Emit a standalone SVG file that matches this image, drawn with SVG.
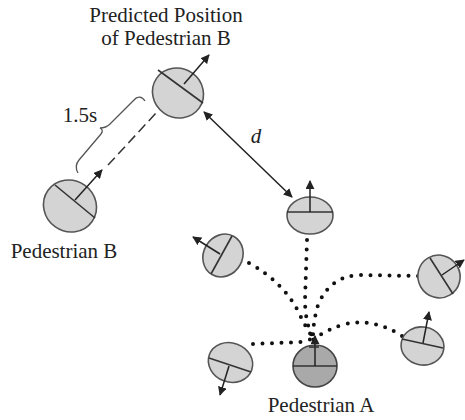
<svg xmlns="http://www.w3.org/2000/svg" width="465" height="420" viewBox="0 0 465 420">
<defs>
<marker id="ah" viewBox="0 0 10 10" refX="9" refY="5" markerWidth="9" markerHeight="9" markerUnits="userSpaceOnUse" orient="auto-start-reverse">
<path d="M0,0 L10,5 L0,10 z" fill="#222"/>
</marker>
<style>
.ped{fill:#d4d4d4;stroke:#555;stroke-width:1.6}
.pedA{fill:#a9a9a9;stroke:#444;stroke-width:1.6}
.div{stroke:#333;stroke-width:1.6;fill:none}
.arr{stroke:#222;stroke-width:1.5;fill:none;marker-end:url(#ah)}
.dots{stroke:#111;stroke-width:4;stroke-linecap:round;stroke-dasharray:0 9.5;fill:none}
</style>
</defs>
<rect width="465" height="420" fill="#fff"/>
<g id="connectors">
<path class="dots" d="M307,240 L305,300 Q305,322 313,338"/>
<path class="dots" d="M249,263 Q285,283 300,315 Q306,328 313,338"/>
<path class="dots" d="M418,276 L360,275 Q330,276 318,305 Q313,322 313,338"/>
<path class="dots" d="M402,336 Q375,318 345,324 Q325,330 313,340"/>
<path class="dots" d="M253,344 L301,342 Q308,341 313,338"/>
<line x1="108" y1="165" x2="157" y2="112" stroke="#333" stroke-width="1.5" stroke-dasharray="10,5"/>
<path d="M145,101 C142,96 137,96 134,100 L110,124 Q106,128 100,128 Q104,130 101,134 L79,160 Q74,166 78,173" fill="none" stroke="#555" stroke-width="1.3"/>
<line x1="204" y1="112" x2="292" y2="197" stroke="#222" stroke-width="1.5" marker-start="url(#ah)" marker-end="url(#ah)"/>
</g>
<g id="predicted-b">
<ellipse class="ped" cx="178" cy="93" rx="26" ry="24.5" transform="rotate(35 178 93)"/>
<line class="div" x1="158" y1="70" x2="203" y2="103"/>
<line class="arr" x1="184" y1="84" x2="209" y2="55"/>
</g>
<g id="pedestrian-b">
<ellipse class="ped" cx="70" cy="206" rx="27" ry="25.5" transform="rotate(35 70 206)"/>
<line class="div" x1="55" y1="185" x2="95" y2="218"/>
<line class="arr" x1="75" y1="200" x2="102" y2="170"/>
</g>
<g id="ped-top">
<ellipse class="ped" cx="310" cy="215.5" rx="23" ry="18.5"/>
<line class="div" x1="287" y1="212" x2="333" y2="212"/>
<line class="arr" x1="310" y1="212" x2="310" y2="181"/>
</g>
<g id="ped-left">
<ellipse class="ped" cx="223" cy="255.5" rx="19.5" ry="22" transform="rotate(30 223 255.5)"/>
<line class="div" x1="232" y1="236" x2="211" y2="274"/>
<line class="arr" x1="220" y1="254" x2="193" y2="237"/>
</g>
<g id="ped-right">
<ellipse class="ped" cx="439" cy="276.5" rx="21" ry="21.5" transform="rotate(-30 439 276.5)"/>
<line class="div" x1="430" y1="258" x2="453" y2="294"/>
<line class="arr" x1="442" y1="275" x2="464" y2="260"/>
</g>
<g id="ped-bottom-right">
<ellipse class="ped" cx="422.5" cy="346" rx="21.5" ry="19" transform="rotate(10 422.5 346)"/>
<line class="div" x1="402" y1="339" x2="443" y2="348"/>
<line class="arr" x1="423" y1="343" x2="429" y2="312"/>
</g>
<g id="ped-bottom-left">
<ellipse class="ped" cx="230.5" cy="362.5" rx="22.5" ry="19.5" transform="rotate(20 230.5 362.5)"/>
<line class="div" x1="209" y1="358" x2="251" y2="372"/>
<line class="arr" x1="229" y1="366" x2="220" y2="395"/>
</g>
<g id="pedestrian-a">
<ellipse class="pedA" cx="315" cy="366" rx="22" ry="21"/>
<line class="div" x1="293" y1="366" x2="337" y2="366"/>
<line class="arr" x1="315" y1="366" x2="315" y2="336"/>
<line class="div" x1="309" y1="347" x2="319" y2="347" stroke-width="2"/>
</g>
<g id="labels" font-family="'Liberation Serif', 'DejaVu Serif', serif" font-size="21" fill="#222">
<text x="166" y="22" text-anchor="middle">Predicted Position</text>
<text x="166" y="45" text-anchor="middle">of Pedestrian B</text>
<text x="80" y="122" text-anchor="middle">1.5s</text>
<text x="64" y="258" text-anchor="middle">Pedestrian B</text>
<text x="321" y="412" text-anchor="middle">Pedestrian A</text>
<text x="256" y="143" text-anchor="middle" font-style="italic">d</text>
</g>
</svg>
